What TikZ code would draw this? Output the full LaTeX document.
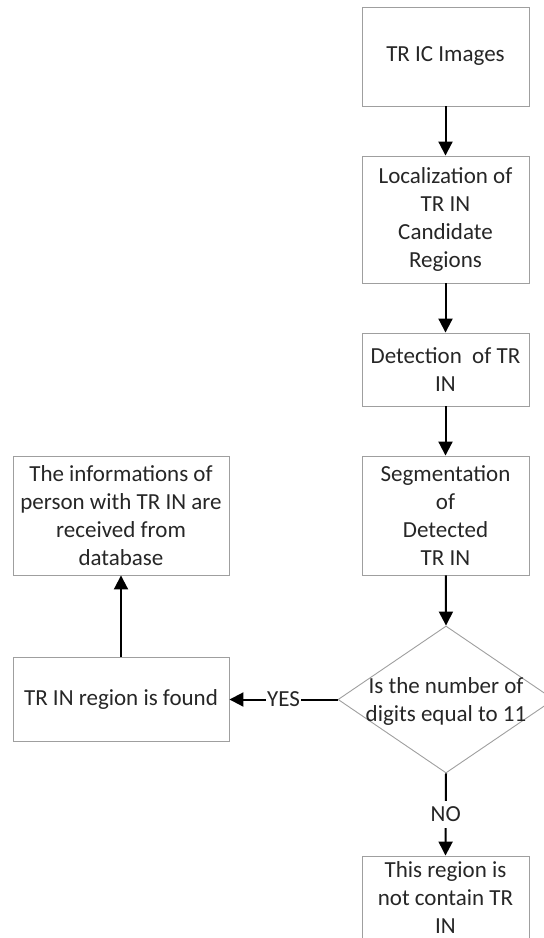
\documentclass[tikz,border=0pt]{standalone}
\usepackage{fontspec}
\setmainfont{Carlito}
\usetikzlibrary{arrows.meta, positioning, shapes.geometric}

\begin{document}
\begin{tikzpicture}[x=1pt, y=-1pt, >={Triangle[width=14pt,length=14pt]},
    box/.style={draw=gray!75, line width=0.9pt, align=center, inner sep=0pt,
                text=black!85, font=\fontsize{23}{28}\selectfont},
    flow/.style={->, line width=2pt},
    tag/.style={fill=white, inner xsep=1pt, inner ysep=6pt, text=black!85,
                font=\fontsize{23}{28}\selectfont}]
  \useasboundingbox (0,0) rectangle (544,938);
  \clip (0,0) rectangle (544,938);

  % Right column
  \node[box, minimum width=167pt, minimum height=99pt] (imgs) at (445.5,56.5) {TR IC Images};
  \node[box, minimum width=167pt, minimum height=127pt] (loc) at (445.5,219.5)
    {Localization of\\TR IN\\Candidate\\Regions};
  \node[box, minimum width=167pt, minimum height=73pt] (det) at (445.5,369.5)
    {Detection~ of TR\\IN};
  \node[box, minimum width=167pt, minimum height=119pt] (seg) at (445.5,515.5)
    {Segmentation\\of\\Detected\\TR IN};

  % Decision
  \node[box, diamond, minimum width=216pt, minimum height=147pt] (dec) at (446,699.5) {};
  \node[box, draw=none] (dectext) at (446,701) {Is the number of\\digits equal to 11};
  \node[box, minimum width=167pt, minimum height=84pt] (notin) at (445.5,898)
    {This region is\\not contain TR\\IN};

  % Left column
  \node[box, minimum width=216pt, minimum height=119pt] (info) at (121,515.5)
    {The informations of\\person with TR IN are\\received from\\database};
  \node[box, minimum width=216pt, minimum height=84pt] (found) at (121,699.5)
    {TR IN region is found};

  % Arrows
  \draw[flow] (imgs) -- (loc);
  \draw[flow] (loc) -- (det);
  \draw[flow] (det) -- (seg);
  \draw[flow] (seg) -- (dec.north);
  \draw[flow] (dec.west) -- node[tag] {YES} (found.east);
  \draw[flow] (dec.south) -- node[tag] {NO} (notin.north);
  \draw[flow] (found) -- (info);
\end{tikzpicture}
\end{document}
